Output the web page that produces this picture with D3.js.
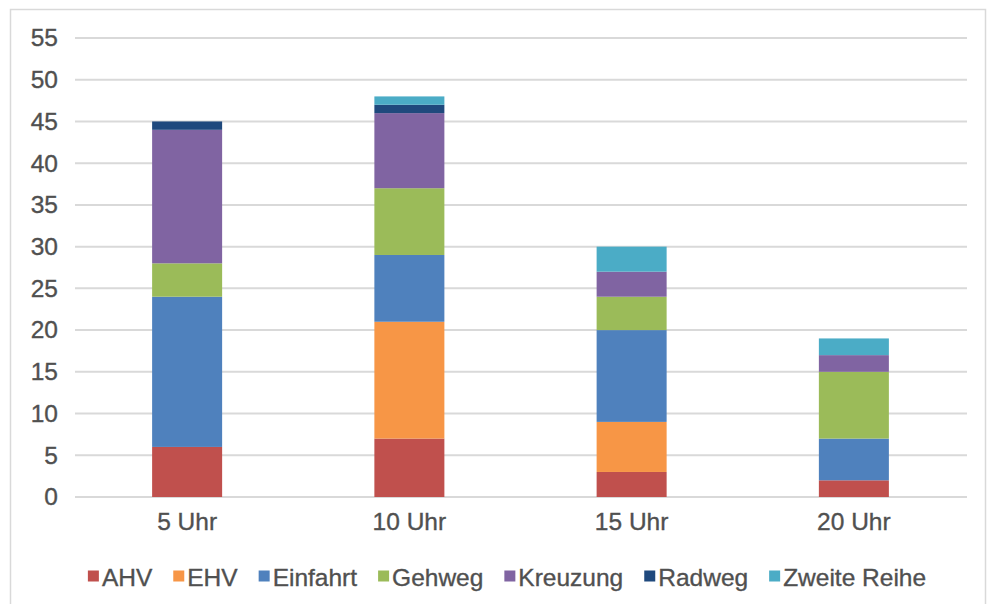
<!DOCTYPE html>
<html>
<head>
<meta charset="utf-8">
<script src="https://cdn.jsdelivr.net/npm/d3@7"></script>
<style>
  html, body { margin: 0; padding: 0; background: #fff; }
  svg { display: block; font-family: "Liberation Sans", Arial, sans-serif; }
  .lbl { stroke: #505050; stroke-width: 0.35px; }
</style>
</head>
<body>
<svg id="chart" width="992" height="604"></svg>
<script>
// Time slots on the x axis
const categories = ["5 Uhr", "10 Uhr", "15 Uhr", "20 Uhr"];

// Stacked series, bottom to top
const seriesNames = ["AHV", "EHV", "Einfahrt", "Gehweg", "Kreuzung", "Radweg", "Zweite Reihe"];
const AHV        = [6, 7, 3, 2];
const EHV        = [0, 14, 6, 0];
const Einfahrt   = [18, 8, 11, 5];
const Gehweg     = [4, 8, 4, 8];
const Kreuzung   = [16, 9, 3, 2];
const Radweg     = [1, 1, 0, 0];
const ZweiteReihe = [0, 1, 3, 2];
const seriesValues = [AHV, EHV, Einfahrt, Gehweg, Kreuzung, Radweg, ZweiteReihe];
const seriesColors = ["#c0504d", "#f79646", "#4f81bd", "#9bbb59", "#8064a2", "#1f497d", "#4bacc6"];

const yTicks = [0, 5, 10, 15, 20, 25, 30, 35, 40, 45, 50, 55];

const svg = d3.select("#chart");
const textColor = "#505050";
const fontSize = 24.5;

// outer frame
svg.append("rect")
  .attr("x", 10.5).attr("y", 9.5)
  .attr("width", 975).attr("height", 600)
  .attr("fill", "none").attr("stroke", "#d9d9d9").attr("stroke-width", 1.5);

const plot = { left: 76, right: 965, top: 38, bottom: 497 };

const x = d3.scaleBand()
  .domain(categories)
  .range([plot.left, plot.right])
  .paddingInner(0.685)
  .paddingOuter(0.3425);

const y = d3.scaleLinear()
  .domain([0, 55])
  .range([plot.bottom, plot.top]);

// gridlines
svg.append("g")
  .selectAll("line")
  .data(yTicks)
  .join("line")
  .attr("x1", plot.left - 1).attr("x2", plot.right + 2)
  .attr("y1", d => y(d)).attr("y2", d => y(d))
  .attr("stroke", "#d9d9d9").attr("stroke-width", 2);

// y axis labels
const yAxis = d3.axisLeft(y).tickValues(yTicks).tickSize(0).tickPadding(0);
const gy = svg.append("g").attr("transform", `translate(${plot.left - 18},0)`).call(yAxis);
gy.select(".domain").remove();
gy.selectAll("text")
  .attr("class", "lbl")
  .attr("fill", textColor)
  .style("font-size", fontSize + "px")
  .style("font-family", "'Liberation Sans', Arial, sans-serif");

// stacked bars
const rows = categories.map((c, i) => {
  const r = { cat: c };
  seriesNames.forEach((s, j) => { r[s] = seriesValues[j][i]; });
  return r;
});
const stacked = d3.stack().keys(seriesNames)(rows);

svg.append("g")
  .selectAll("g")
  .data(stacked)
  .join("g")
  .attr("fill", (d, i) => seriesColors[i])
  .selectAll("rect")
  .data(d => d.filter(p => p[1] - p[0] > 0))
  .join("rect")
  .attr("x", d => x(d.data.cat))
  .attr("width", x.bandwidth())
  .attr("y", d => y(d[1]))
  .attr("height", d => y(d[0]) - y(d[1]));

// x axis labels
const xAxis = d3.axisBottom(x).tickSize(0).tickPadding(0);
const gx = svg.append("g").attr("transform", `translate(0,${plot.bottom + 16})`).call(xAxis);
gx.select(".domain").remove();
gx.selectAll("text")
  .attr("class", "lbl")
  .attr("fill", textColor)
  .attr("dy", "0.71em")
  .style("font-size", fontSize + "px")
  .style("font-family", "'Liberation Sans', Arial, sans-serif");

// legend
const legend = svg.append("g");
const sw = 11, gapSwatch = 3, gapItem = 21;
let cursor = 0;
seriesNames.forEach((name, i) => {
  const g = legend.append("g");
  g.append("rect").attr("y", -sw / 2 - 1).attr("width", sw).attr("height", sw).attr("fill", seriesColors[i]);
  const t = g.append("text")
    .attr("class", "lbl")
    .attr("x", sw + gapSwatch)
    .attr("dy", "0.35em")
    .attr("fill", textColor)
    .style("font-size", fontSize + "px")
    .text(name);
  const w = sw + gapSwatch + t.node().getComputedTextLength();
  g.attr("transform", `translate(${cursor},0)`);
  cursor += w + gapItem;
});
const total = cursor - gapItem;
legend.attr("transform", `translate(${507 - total / 2},577)`);
</script>
</body>
</html>
